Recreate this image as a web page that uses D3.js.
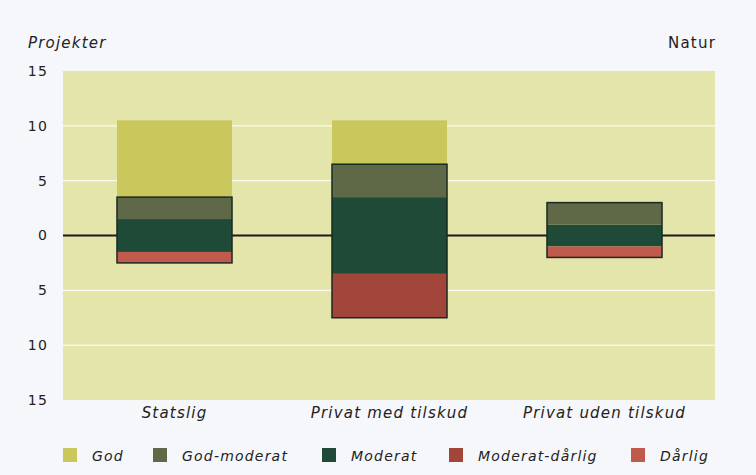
<!DOCTYPE html>
<html>
<head>
<meta charset="utf-8">
<script src="https://cdn.jsdelivr.net/npm/d3@7"></script>
<style>
  body { margin: 0; background: #f5f7fb; }
  text { font-family: "DejaVu Sans", Verdana, sans-serif; font-style: italic; fill: #222; letter-spacing: 1.2px; }
</style>
</head>
<body>
<div id="chart"></div>
<script>
// Projekter efter tilstand, Natur
const kategorier = ["Statslig", "Privat med tilskud", "Privat uden tilskud"];
const serier = ["God", "God-moderat", "Moderat", "Moderat-dårlig", "Dårlig"];
const god = [7, 4, 0];
const godModerat = [2, 3, 2];
const moderat = [3, 7, 2];
const moderatDarlig = [0, 4, 0];
const darlig = [1, 0, 1];
const yTicks = [15, 10, 5, 0, -5, -10, -15];

const farver = {
    "God": "#cac75c",
    "God-moderat": "#5f6847",
    "Moderat": "#1f4a38",
    "Moderat-dårlig": "#a2453a",
    "Dårlig": "#c05a4c"
};

const width = 756, height = 475;
const plot = { left: 63, right: 715, top: 71, bottom: 400 };

const svg = d3.select("#chart").append("svg")
    .attr("width", width)
    .attr("height", height);

const x = d3.scaleBand()
    .domain(kategorier)
    .range([67, 712])
    .paddingInner(0.465)
    .paddingOuter(0.2325);

const y = d3.scaleLinear()
    .domain([-15, 15])
    .range([plot.bottom, plot.top]);

// baggrund
svg.append("rect")
    .attr("x", plot.left).attr("y", plot.top)
    .attr("width", plot.right - plot.left)
    .attr("height", plot.bottom - plot.top)
    .attr("fill", "#e4e5ab");

// hvide gitterlinjer
svg.selectAll(".grid")
    .data([10, 5, -5, -10])
    .enter().append("line")
    .attr("x1", plot.left).attr("x2", plot.right)
    .attr("y1", d => y(d)).attr("y2", d => y(d))
    .attr("stroke", "#ffffff")
    .attr("stroke-width", 1);

// nul-linje
svg.append("line")
    .attr("x1", plot.left).attr("x2", plot.right)
    .attr("y1", y(0)).attr("y2", y(0))
    .attr("stroke", "#1a1a1a")
    .attr("stroke-width", 2);

// stablede segmenter, Moderat centreret om 0
const segmenter = [];
kategorier.forEach((k, i) => {
    const halv = moderat[i] / 2;
    segmenter.push({ k, s: "Moderat", y0: -halv, y1: halv });
    segmenter.push({ k, s: "God-moderat", y0: halv, y1: halv + godModerat[i] });
    segmenter.push({ k, s: "God", y0: halv + godModerat[i], y1: halv + godModerat[i] + god[i] });
    segmenter.push({ k, s: "Moderat-dårlig", y0: -halv - moderatDarlig[i], y1: -halv });
    segmenter.push({ k, s: "Dårlig", y0: -halv - moderatDarlig[i] - darlig[i], y1: -halv - moderatDarlig[i] });
});

svg.selectAll(".seg")
    .data(segmenter.filter(d => d.y1 > d.y0))
    .enter().append("rect")
    .attr("x", d => x(d.k))
    .attr("width", x.bandwidth())
    .attr("y", d => y(d.y1))
    .attr("height", d => y(d.y0) - y(d.y1))
    .attr("fill", d => farver[d.s]);

// mørk kant om segmenterne under God
svg.selectAll(".kant")
    .data(kategorier)
    .enter().append("rect")
    .attr("x", d => x(d))
    .attr("width", x.bandwidth())
    .attr("y", (d, i) => y(moderat[i] / 2 + godModerat[i]))
    .attr("height", (d, i) => y(-moderat[i] / 2 - moderatDarlig[i] - darlig[i]) - y(moderat[i] / 2 + godModerat[i]))
    .attr("fill", "none")
    .attr("stroke", "#1b2a22")
    .attr("stroke-width", 1.5);

// y-akse
const yAxis = svg.append("g")
    .attr("transform", `translate(${plot.left - 15},0)`)
    .call(d3.axisLeft(y).tickValues(yTicks).tickFormat(d => Math.abs(d)).tickSize(0));
yAxis.select(".domain").remove();
yAxis.selectAll("text")
    .attr("x", 0)
    .attr("font-family", null)
    .attr("font-size", null)
    .style("font-size", "14px")
    .style("font-style", "normal");

// kategorier
svg.selectAll(".kat")
    .data(kategorier)
    .enter().append("text")
    .attr("x", d => x(d) + x.bandwidth() / 2)
    .attr("y", 418)
    .attr("text-anchor", "middle")
    .style("font-size", "15px")
    .text(d => d);

svg.append("text")
    .attr("x", 28).attr("y", 48)
    .style("font-size", "15px")
    .text("Projekter");

svg.append("text")
    .attr("x", 716).attr("y", 48)
    .attr("text-anchor", "end")
    .style("font-size", "15px")
    .style("font-style", "normal")
    .text("Natur");

// forklaring
const legendX = [63, 153, 322, 449, 631];
const leg = svg.selectAll(".leg")
    .data(serier)
    .enter().append("g")
    .attr("transform", (d, i) => `translate(${legendX[i]},448)`);
leg.append("rect")
    .attr("width", 14).attr("height", 14)
    .attr("fill", d => farver[d]);
leg.append("text")
    .attr("x", 29).attr("y", 13)
    .style("font-size", "14px")
    .text(d => d);
</script>
</body>
</html>
